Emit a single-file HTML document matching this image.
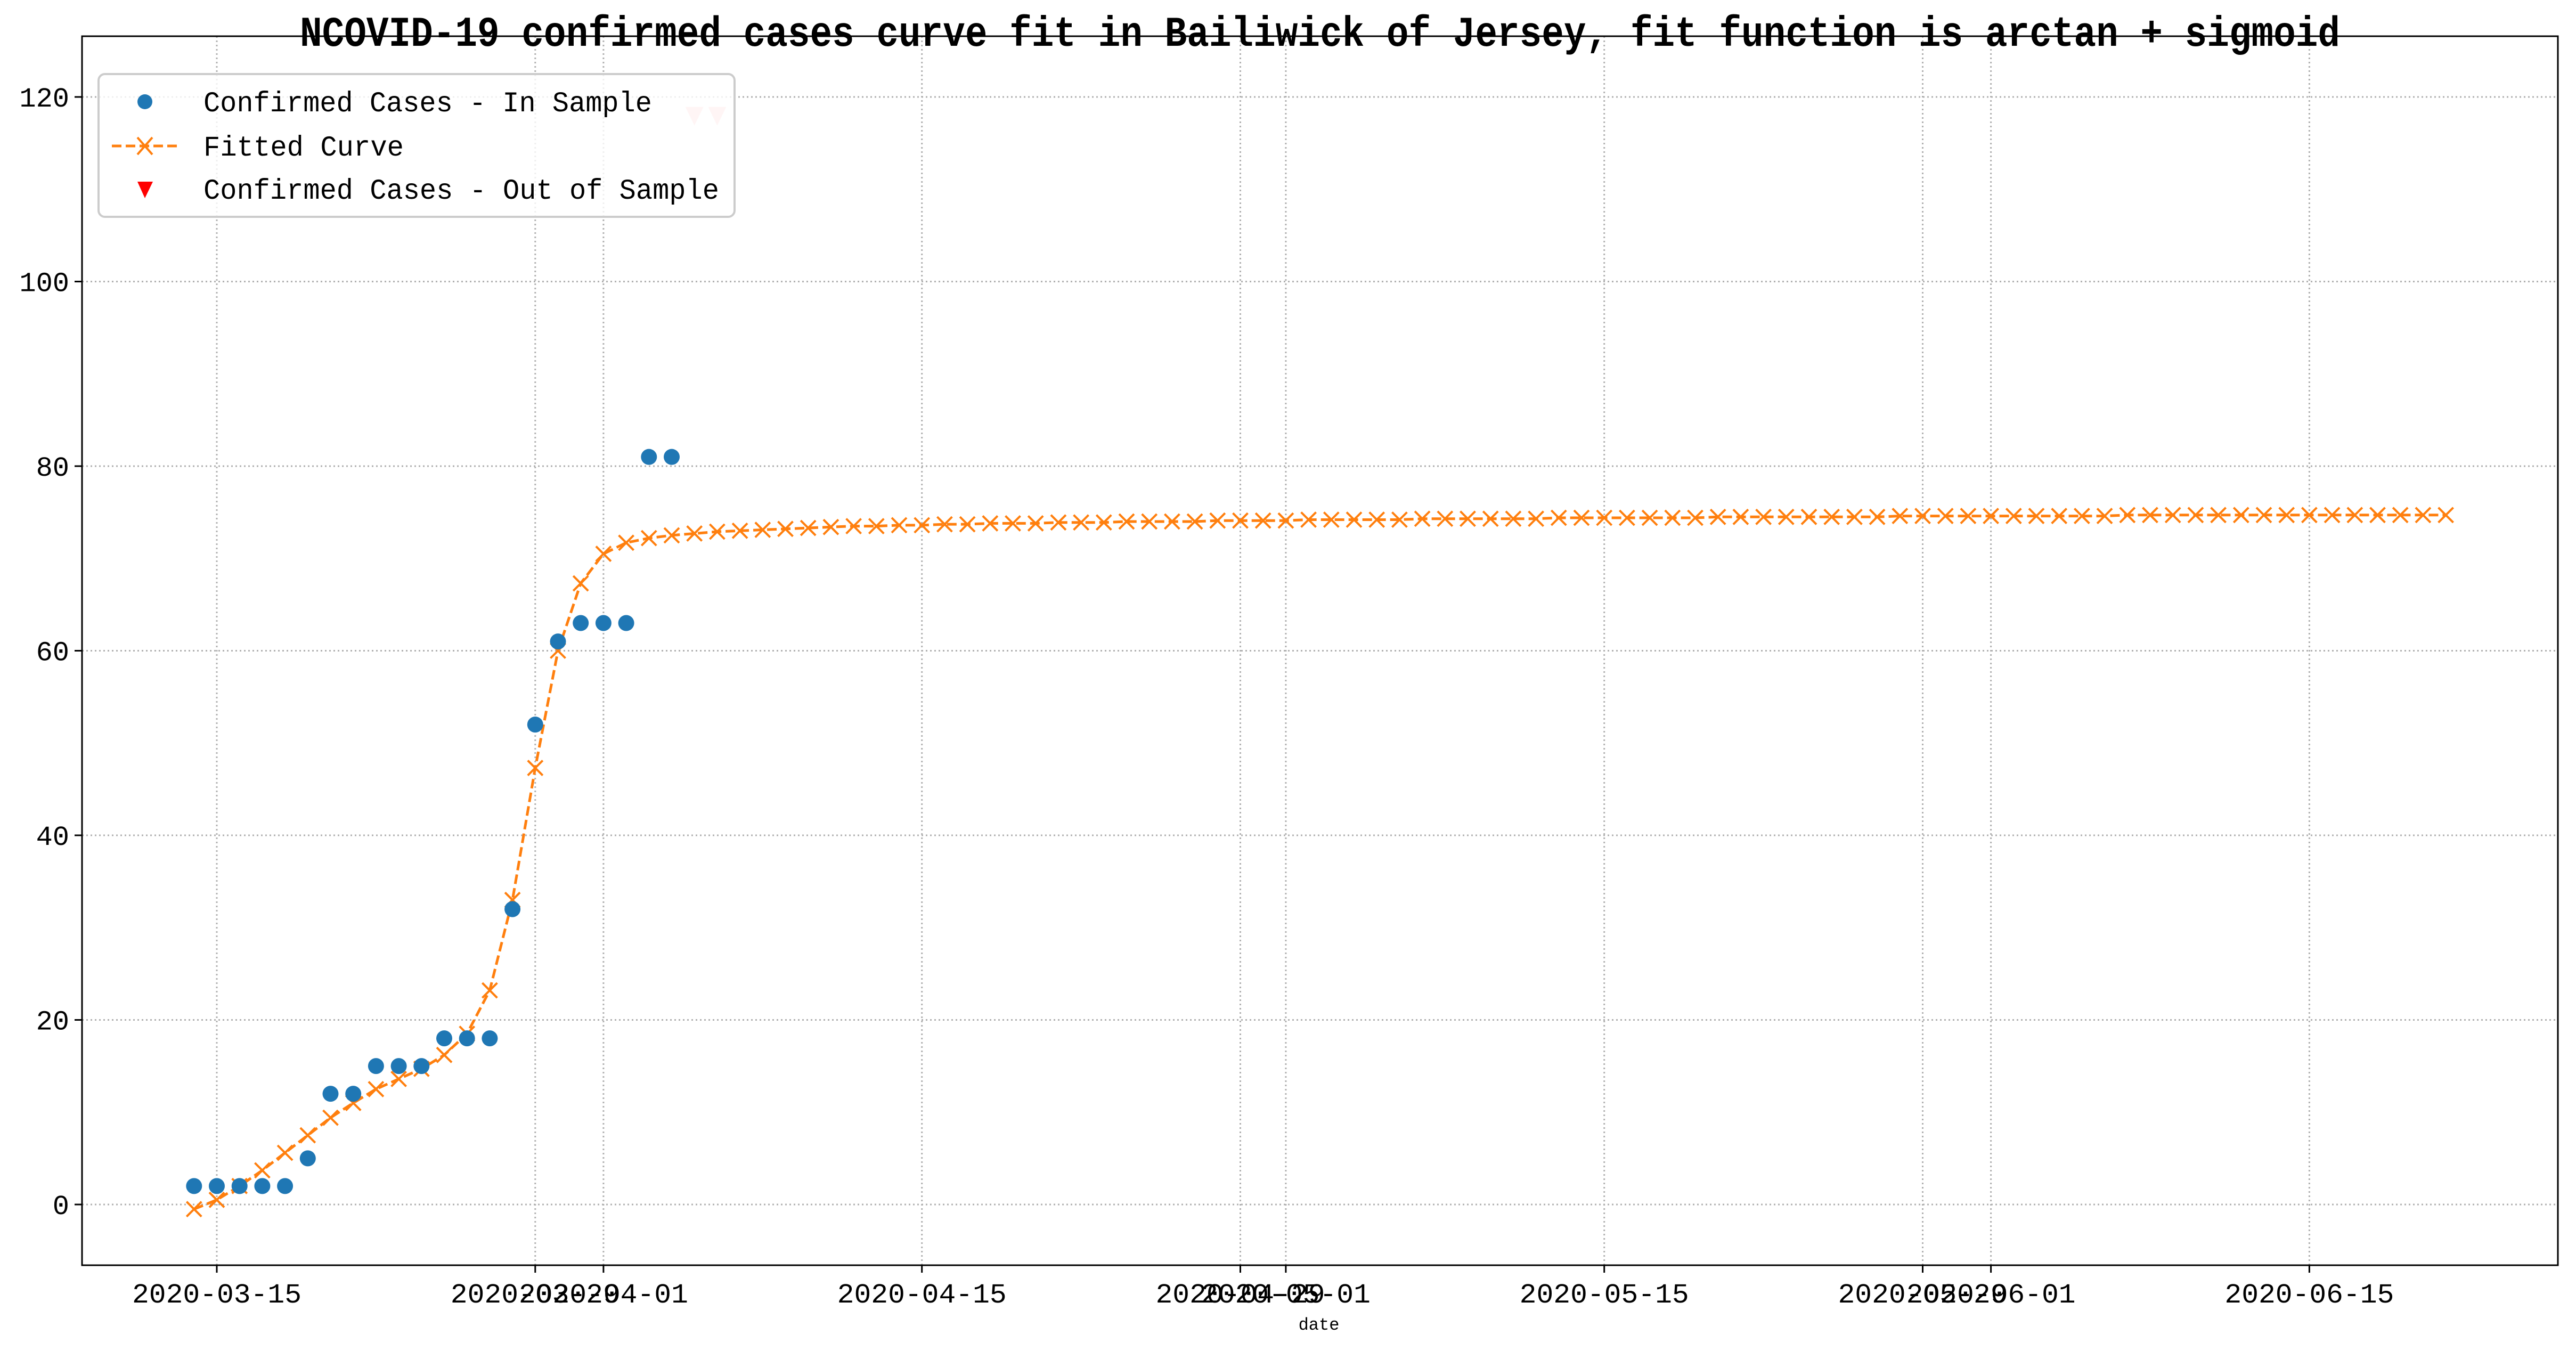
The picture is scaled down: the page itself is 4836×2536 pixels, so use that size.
<!DOCTYPE html>
<html><head><meta charset="utf-8"><style>
html,body{margin:0;padding:0;background:#fff;}
svg{display:block;}
text{font-family:"Liberation Mono","Noto Sans CJK SC",monospace;fill:#000;}
</style></head><body>
<svg id="chart" xmlns="http://www.w3.org/2000/svg" width="4836" height="2536" viewBox="0 0 4836 2536">
<rect width="4836" height="2536" fill="#fff"/>
<g id="grid"></g>
<g id="series"></g>
<rect x="154" y="68" width="4648" height="2307" fill="none" stroke="#000" stroke-width="3"/>
<g id="ticks"></g>
<text x="2478" y="86" text-anchor="middle" font-size="80" font-weight="bold" textLength="3830" lengthAdjust="spacingAndGlyphs">NCOVID-19 confirmed cases curve fit in Bailiwick of Jersey, fit function is arctan + sigmoid</text>
<text x="2476" y="2496" text-anchor="middle" font-size="32">date</text>
<g>
<rect x="185" y="139" width="1194" height="268" rx="12" fill="rgba(255,255,255,0.8)" stroke="#ccc" stroke-width="4"/>
<circle cx="272" cy="191" r="14" fill="#1f77b4"/>
<text x="382" y="209" font-size="54" textLength="842" lengthAdjust="spacingAndGlyphs">Confirmed Cases - In Sample</text>
<line x1="210" y1="274" x2="335" y2="274" stroke="#ff7f0e" stroke-width="5" stroke-dasharray="18,8"/>
<path d="M258,258 L286,290 M258,290 L286,258" stroke="#ff7f0e" stroke-width="4"/>
<text x="382" y="292" font-size="54" textLength="376" lengthAdjust="spacingAndGlyphs">Fitted Curve</text>
<path d="M258,341 L287,341 L272,372 Z" fill="#ff0000"/>
<text x="382" y="373" font-size="54" textLength="968" lengthAdjust="spacingAndGlyphs">Confirmed Cases - Out of Sample</text>
</g>
</svg>
<script>
const inSampleStart = "2020-03-14";
const inSampleValues = [2,2,2,2,2,5,12,12,15,15,15,18,18,18,32,52,61,63,63,63,81,81];
const outSampleStart = "2020-04-05";
const outSampleValues = [118,118];
const fitStart = "2020-03-14";
const fitValues = [-0.5,0.5,2.0,3.7,5.6,7.5,9.4,11.0,12.5,13.6,14.7,16.2,18.5,23.2,33.0,47.3,60.0,67.3,70.5,71.7,72.2,72.5,72.7,72.9,73.0,73.1,73.2,73.3,73.4,73.5,73.5,73.6,73.6,73.7,73.7,73.8,73.8,73.8,73.9,73.9,73.9,74.0,74.0,74.0,74.0,74.1,74.1,74.1,74.1,74.2,74.2,74.2,74.2,74.2,74.3,74.3,74.3,74.3,74.3,74.3,74.4,74.4,74.4,74.4,74.4,74.4,74.4,74.5,74.5,74.5,74.5,74.5,74.5,74.5,74.5,74.6,74.6,74.6,74.6,74.6,74.6,74.6,74.6,74.6,74.6,74.7,74.7,74.7,74.7,74.7,74.7,74.7,74.7,74.7,74.7,74.7,74.7,74.7,74.7,74.7];
const yTicks = [0,20,40,60,80,100,120];
const xTickLabels = ["2020-03-15","2020-03-29","2020-04-01","2020-04-15","2020-04-29","2020-05-01","2020-05-15","2020-05-29","2020-06-01","2020-06-15"];

const NS="http://www.w3.org/2000/svg";
const X0=407, PXD=42.7, Y0=2261, PXU=(2261-182)/120;
const base=Date.UTC(2020,2,15);
function dayOf(s){const p=s.split("-");return (Date.UTC(+p[0],+p[1]-1,+p[2])-base)/86400000;}
function xs(d){return X0+d*PXD;}
function ys(v){return Y0-v*PXU;}
function mk(tag,attrs,parent){const e=document.createElementNS(NS,tag);for(const k in attrs)e.setAttribute(k,attrs[k]);parent.appendChild(e);return e;}
const grid=document.getElementById('grid'),ser=document.getElementById('series'),tk=document.getElementById('ticks');

yTicks.forEach(v=>{
  const y=ys(v);
  const g=mk('line',{x1:154,x2:4802,y1:y,y2:y,stroke:'#b0b0b0','stroke-width':3,'stroke-dasharray':'3,5'},grid);
  
  
  const t=mk('line',{x1:140,x2:154,y1:y,y2:y,stroke:'#000','stroke-width':3},tk);
  
  
  const l=mk('text',{x:130,y:y+18,'text-anchor':'end','font-size':52},tk);
  l.textContent=String(v);
  
  
});
xTickLabels.forEach(s=>{
  const x=xs(dayOf(s));
  const g=mk('line',{x1:x,x2:x,y1:68,y2:2375,stroke:'#b0b0b0','stroke-width':3,'stroke-dasharray':'3,5'},grid);
  
  
  const t=mk('line',{x1:x,x2:x,y1:2375,y2:2389,stroke:'#000','stroke-width':3},tk);
  
  
  const l=mk('text',{x:x,y:2445,'text-anchor':'middle','font-size':52,textLength:318,lengthAdjust:'spacingAndGlyphs'},tk);
  l.textContent=s;
  
  
});

const fd=dayOf(fitStart);
const pts=fitValues.map((v,i)=>xs(fd+i).toFixed(1)+','+ys(v).toFixed(1)).join(' ');
const pl=mk('polyline',{points:pts,fill:'none',stroke:'#ff7f0e','stroke-width':5,'stroke-dasharray':'18,8'},ser);


fitValues.forEach((v,i)=>{
  const x=xs(fd+i),y=ys(v),r=14;
  const p=mk('path',{d:`M${x-r},${y-r} L${x+r},${y+r} M${x-r},${y+r} L${x+r},${y-r}`,stroke:'#ff7f0e','stroke-width':4},ser);
  
  
});
const isd=dayOf(inSampleStart);
inSampleValues.forEach((v,i)=>{
  const c=mk('circle',{cx:xs(isd+i),cy:ys(v),r:15,fill:'#1f77b4'},ser);
  
  
});
const osd=dayOf(outSampleStart);
outSampleValues.forEach((v,i)=>{
  const x=xs(osd+i),y=ys(v);
  const p=mk('path',{d:`M${x-17},${y-16} L${x+17},${y-16} L${x},${y+19} Z`,fill:'#ffcccc'},ser);
  
  
});
</script>
</body></html>
